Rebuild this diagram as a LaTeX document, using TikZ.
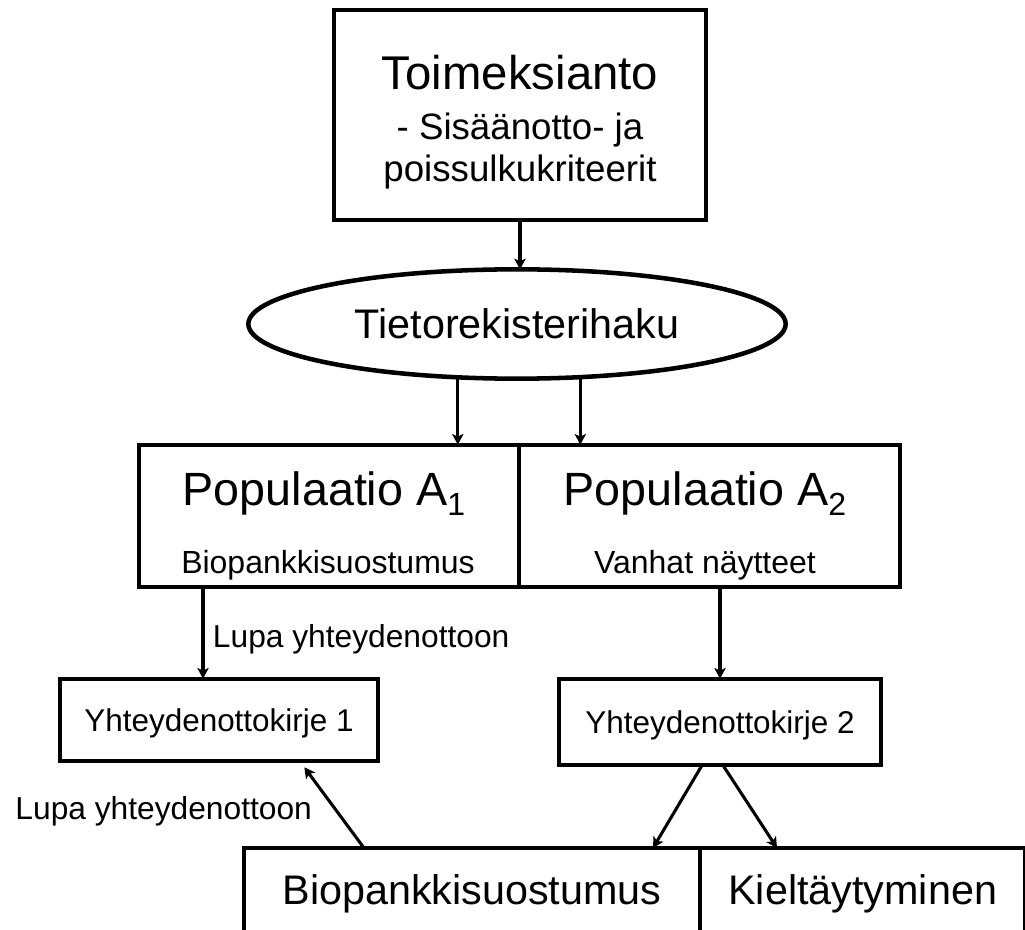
\documentclass[tikz,border=0pt]{standalone}
\usepackage{fontspec}
\setmainfont{Liberation Sans}
\usetikzlibrary{shapes.geometric,arrows.meta,calc,positioning}
\newcommand\fs[1]{\fontsize{#1}{#1}\selectfont}
\newcommand\lowsub[1]{\raisebox{-7.5pt}{\fs{24}#1}}
\begin{document}
\begin{tikzpicture}[x=0.75pt, y=-0.75pt,
		box/.style={draw, line width=3.2pt, inner sep=0pt, outer sep=0pt},
		oval/.style={draw, ellipse, line width=3.4pt, inner sep=0pt, outer sep=0pt},
		arr/.style={-{Stealth[length=8pt, width=8.5pt, inset=2pt]}, line width=2.3pt},
		lbl/.style={font=\fs{23.8}}]
			\useasboundingbox (0,0) rectangle (1025,930);
			\clip (0,0) rectangle (1025,930);
			\node[box, minimum width=279pt, minimum height=158pt] (toim) at (520,115) {};
			\node[anchor=base, font=\fs{35.5}] (toim1) at (520,90) {Toimeksianto};
			\node[anchor=base, font=\fs{27.5}] (toim2) at (520,140) {- Sisäänotto- ja};
			\node[anchor=base, font=\fs{27.5}] (toim3) at (520,182) {poissulkukriteerit};
			\node[oval, minimum width=403pt, minimum height=82pt, font=\fs{31}] (tiet) at (517,324) {Tietorekisterihaku};
			\node[box, minimum width=285pt, minimum height=107pt] (popA1) at (329,516) {};
			\node[box, minimum width=286pt, minimum height=107pt, anchor=west] (popA2) at (popA1.east) {};
			\node[anchor=base, font=\fs{35}] (popA1a) at (324,505) {Populaatio A\lowsub{1}};
			\node[anchor=base, font=\fs{24}] (popA1b) at (328,573) {Biopankkisuostumus};
			\node[anchor=base, font=\fs{35}] (popA2a) at (705,505) {Populaatio A\lowsub{2}};
			\node[anchor=base, font=\fs{24}] (popA2b) at (705,573) {Vanhat näytteet};
			\node[box, minimum width=239pt, minimum height=62pt, text depth=0pt, font=\fs{23.6}] (yht1) at (219,720) {Yhteydenottokirje 1};
			\node[box, minimum width=242pt, minimum height=65pt, text depth=0pt, font=\fs{23.6}] (yht2) at (720,722) {Yhteydenottokirje 2};
			\node[box, minimum width=342pt, minimum height=69pt, font=\fs{31}] (bio) at (472,894) {Biopankkisuostumus};
			\node[box, minimum width=244pt, minimum height=69pt, font=\fs{31}, anchor=west] (kielt) at (bio.east) {Kieltäytyminen};
			\draw[arr] (toim.south) -- (toim.south |- tiet.north);
			\draw[arr] (tiet.222.1) -- (tiet.222.1 |- popA1.north);
			\draw[arr] (tiet.320.3) -- (tiet.320.3 |- popA2.north);
			\draw[arr] ($(popA1.south)+(-126,0)$) -- ($(yht1.north)+(-16,0)$)
				node[lbl, pos=0.57, anchor=west, xshift=3pt] (lupa1) {Lupa yhteydenottoon};
			\draw[arr] (popA2.south -| yht2.north) -- (yht2.north);
			\draw[arr] ($(yht2.south)+(-18,0)$) -- ($(bio.north east)+(-47,0)$);
			\draw[arr] ($(yht2.south)+(3,0)$) -- ($(kielt.north west)+(77,0)$);
			\draw[arr] ($(bio.north west)+(120,0)$) -- ($(yht1.south east)+(-74,6)$)
				node[lbl, pos=0.46, anchor=east, xshift=-14pt] (lupa2) {Lupa yhteydenottoon};
		\end{tikzpicture}
\end{document}
